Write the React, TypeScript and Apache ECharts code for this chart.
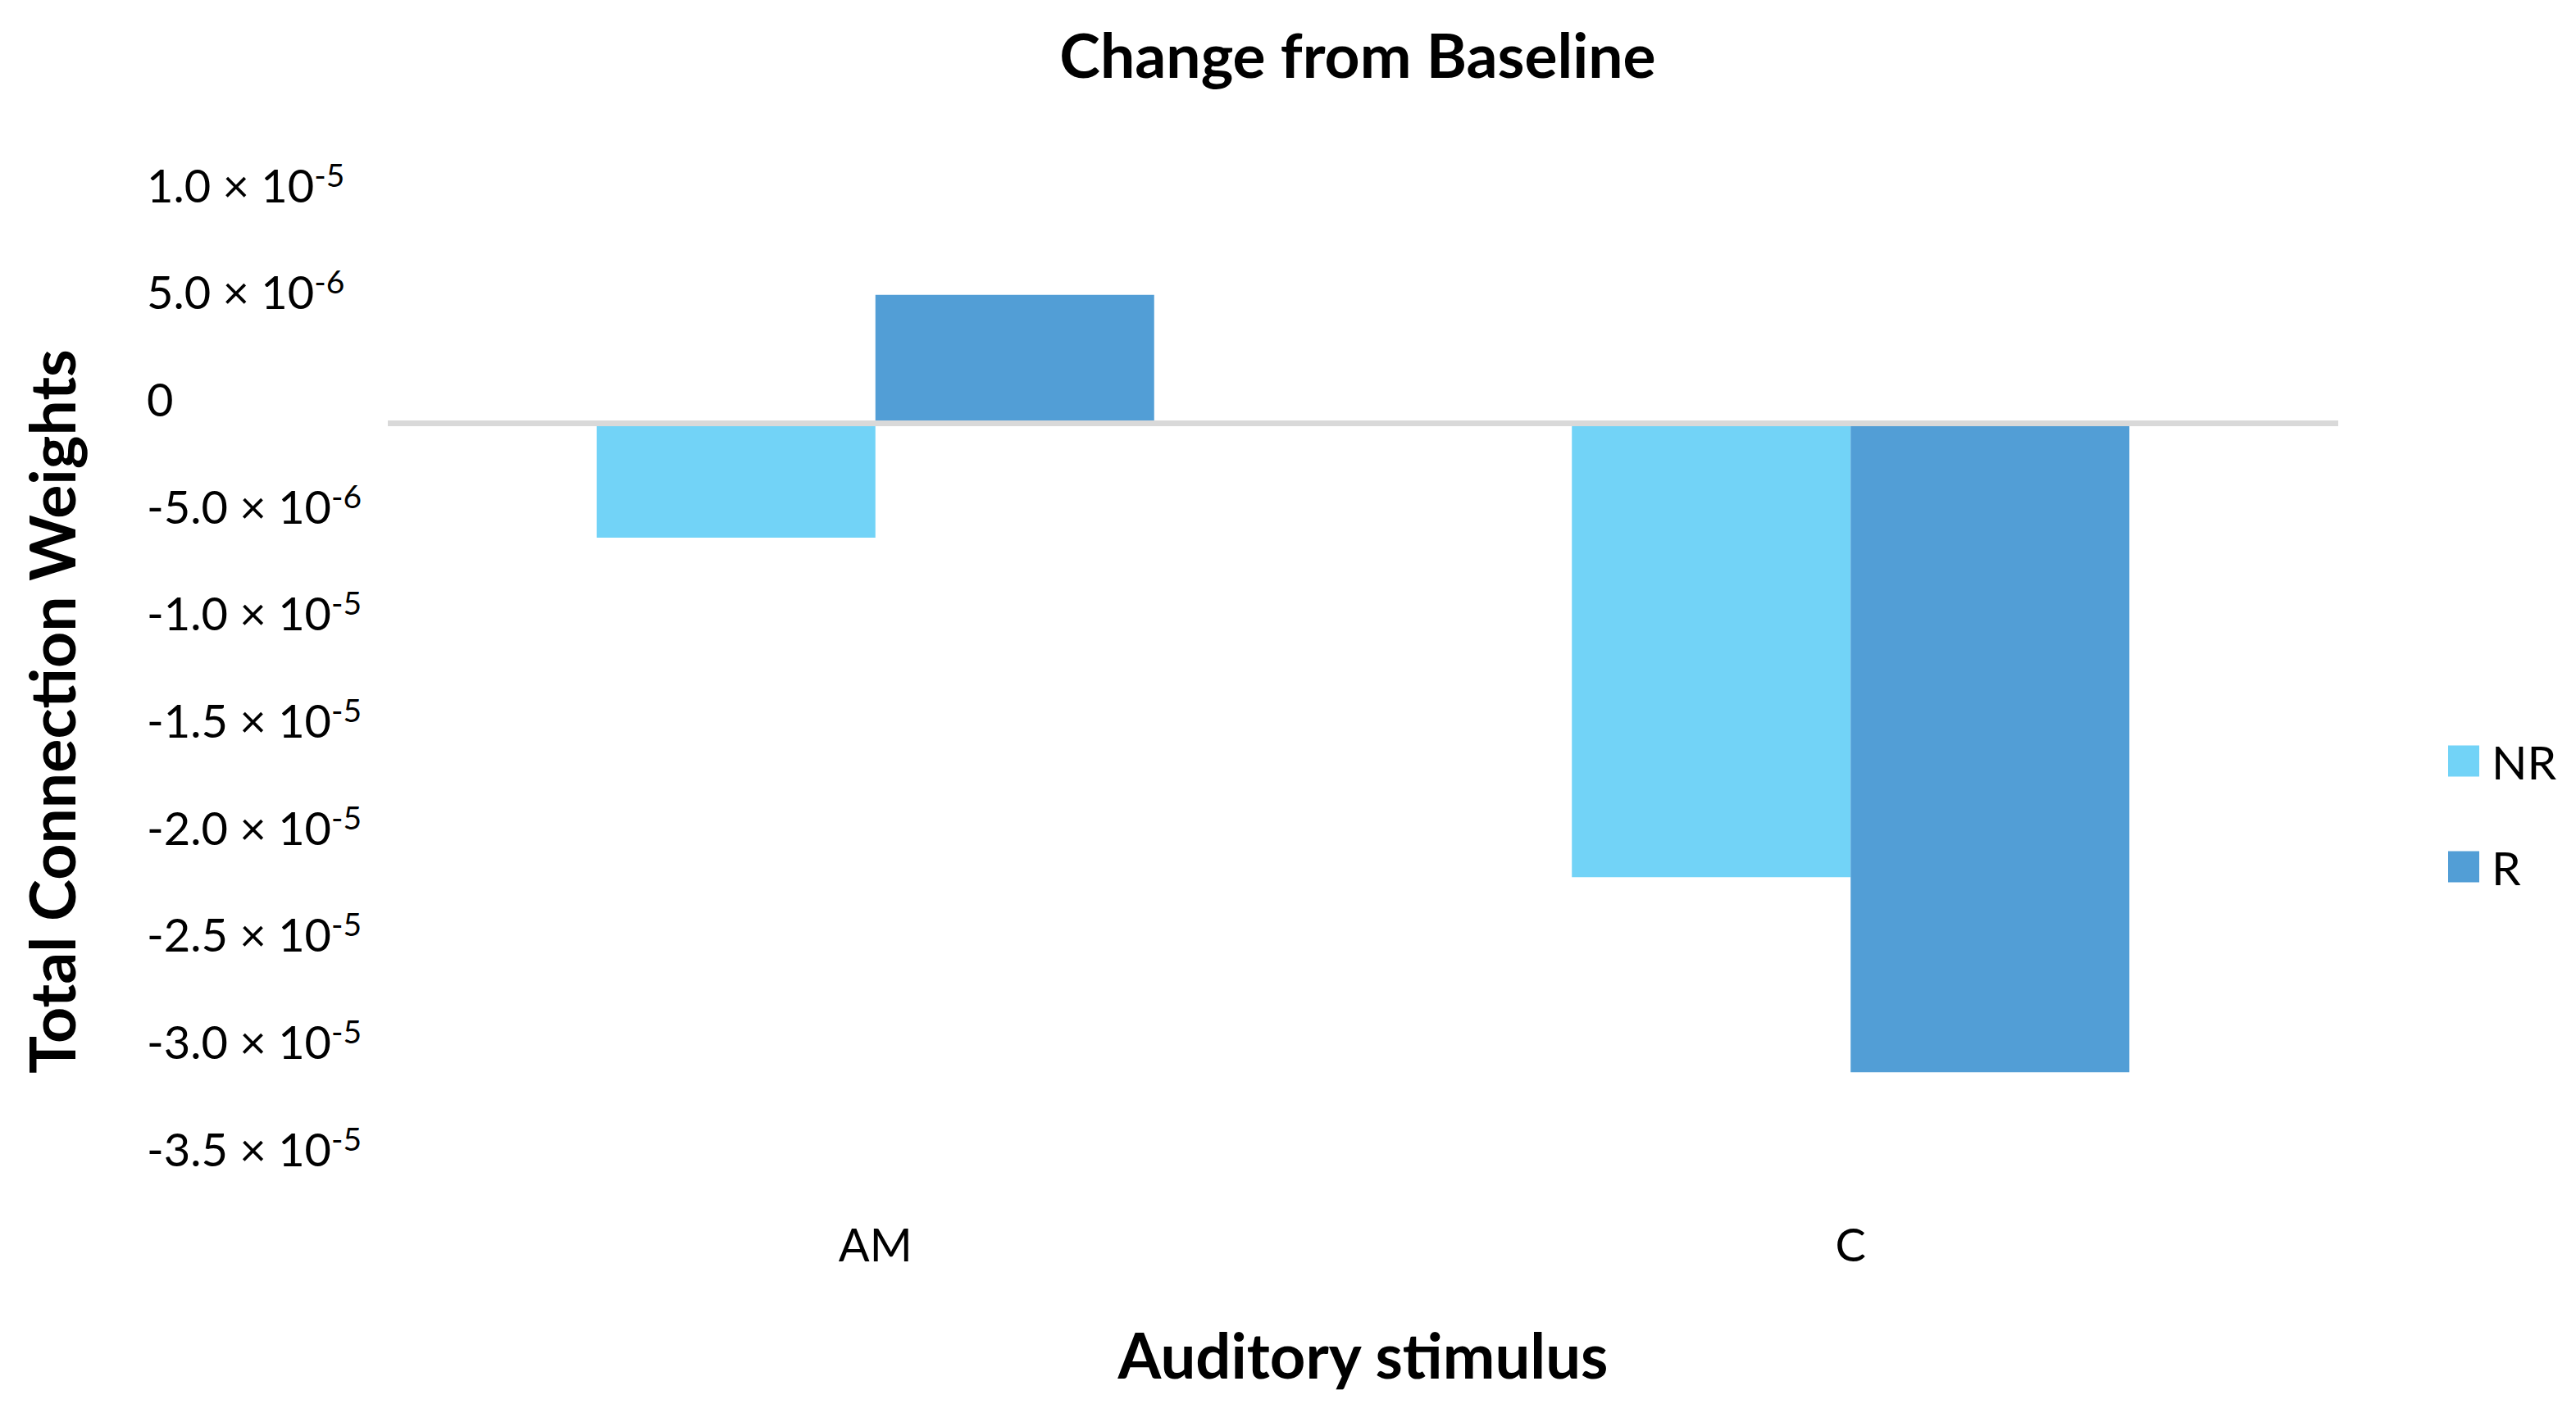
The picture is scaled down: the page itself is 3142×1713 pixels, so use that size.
import React, { useEffect, useRef } from "react";
import * as echarts from "echarts";

const categories = ["AM", "C"];
const seriesNames = ["NR", "R"];
const nrValues = [-5.34e-6, -2.12e-5];
const rValues = [5.99e-6, -3.03e-5];
const yMin = -3.5e-5;
const yMax = 1.0e-5;
const yInterval = 5e-6;
const colors = ["#72D3F7", "#529ED6"];

function formatTick(v: number): string {
  if (Math.abs(v) < 1e-12) return "{b|0}";
  let exp = Math.floor(Math.log10(Math.abs(v)) + 1e-9);
  let mant = v / Math.pow(10, exp);
  if (Math.abs(mant) >= 9.95) {
    exp += 1;
    mant = v / Math.pow(10, exp);
  }
  return "{b|" + mant.toFixed(1) + " × 10}{s|" + exp + "}";
}

export default function App() {
  const ref = useRef<HTMLDivElement>(null);
  useEffect(() => {
    document.body.style.margin = "0";
    const chart = echarts.init(ref.current!, null, { renderer: "svg" });
    const font = "Lato";
    chart.setOption({
      animation: false,
      backgroundColor: "#ffffff",
      textStyle: { fontFamily: font, color: "#000" },
      title: {
        text: "Change from Baseline",
        left: 1651,
        top: 23,
        textAlign: "center",
        textStyle: { fontFamily: font, fontWeight: "bold", fontSize: 75, lineHeight: 75, color: "#000" },
      },
      legend: {
        orient: "vertical",
        left: 2981,
        top: 895,
        itemWidth: 38,
        itemHeight: 38,
        itemGap: 72,
        icon: "rect",
        data: seriesNames,
        textStyle: { fontFamily: font, fontSize: 57, lineHeight: 38, color: "#000", padding: [0, 0, 0, 10] },
      },
      grid: { left: 473, right: 290, top: 255, bottom: 282, containLabel: false, outerBoundsMode: "none" },
      xAxis: {
        type: "category",
        data: categories,
        name: "Auditory stimulus",
        nameLocation: "middle",
        nameGap: 183,
        nameTextStyle: { fontFamily: font, fontWeight: "bold", fontSize: 76, lineHeight: 76, color: "#000" },
        axisLine: { show: false, onZero: false },
        axisTick: { show: false },
        axisLabel: { fontFamily: font, fontSize: 56, lineHeight: 56, margin: 58, color: "#000" },
        splitLine: { show: false },
      },
      yAxis: {
        type: "value",
        min: yMin,
        max: yMax,
        interval: yInterval,
        name: "Total Connection Weights",
        nameLocation: "middle",
        nameRotate: 90,
        nameGap: 373,
        nameTextStyle: {
          fontFamily: font,
          fontWeight: "bold",
          fontSize: 77,
          lineHeight: 77,
          color: "#000",
          padding: [0, 50, 0, 0],
        },
        axisLine: { show: false },
        axisTick: { show: false },
        splitLine: { show: false },
        axisLabel: {
          align: "left",
          margin: 294,
          padding: [0, 0, 60, 0],
          formatter: (v: number) => formatTick(v),
          rich: {
            b: { fontFamily: font, fontSize: 56, lineHeight: 64, color: "#000" },
            s: { fontFamily: font, fontSize: 39, lineHeight: 39, verticalAlign: "top", color: "#000" },
          },
        },
      },
      series: [
        {
          name: seriesNames[0],
          type: "bar",
          data: nrValues,
          barWidth: 340,
          barGap: "0%",
          itemStyle: { color: colors[0] },
        },
        {
          name: seriesNames[1],
          type: "bar",
          data: rValues,
          barWidth: 340,
          barGap: "0%",
          itemStyle: { color: colors[1] },
          markLine: {
            silent: true,
            symbol: ["none", "none"],
            label: { show: false },
            lineStyle: { color: "#D9D9D9", width: 7, type: "solid" },
            data: [{ yAxis: 0 }],
          },
        },
      ],
    });
    return () => chart.dispose();
  }, []);
  return <div ref={ref} style={{ width: 3142, height: 1713 }} />;
}
